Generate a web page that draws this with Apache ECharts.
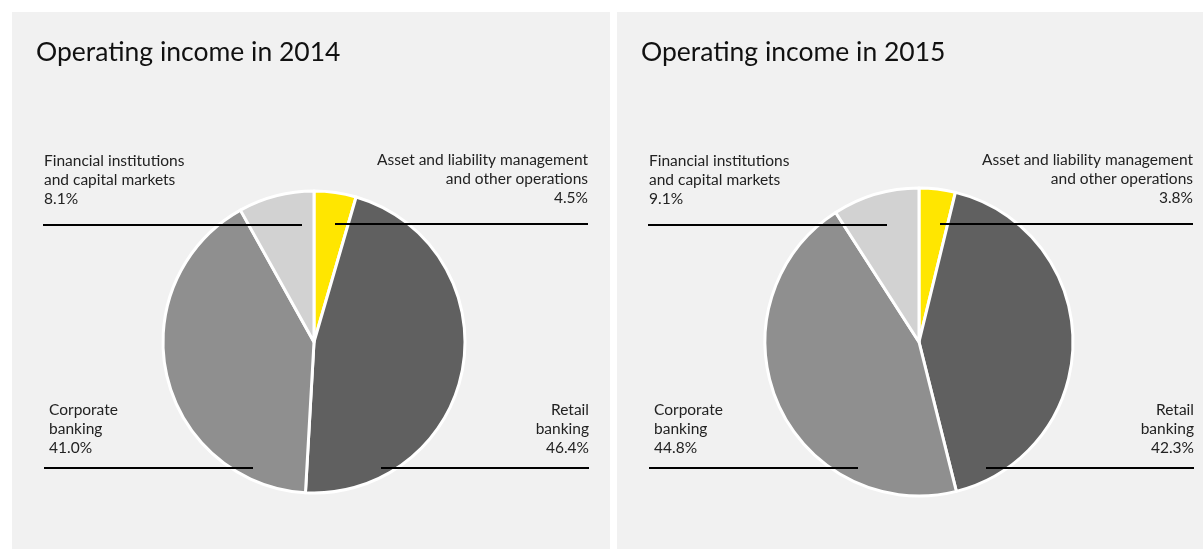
<!DOCTYPE html>
<html>
<head>
<meta charset="utf-8">
<script src="https://cdn.jsdelivr.net/npm/echarts@6/dist/echarts.min.js"></script>
<style>
  html, body { margin: 0; padding: 0; background: #fff; }
  .panel { position: absolute; top: 12px; height: 537px; background: #f1f1f1; }
  #p2014 { left: 12px; width: 598px; }
  #p2015 { left: 617px; width: 586px; }
</style>
</head>
<body>
<div id="p2014" class="panel"></div>
<div id="p2015" class="panel"></div>
<script>
// segments, clockwise from 12 o'clock
const categories = [
  'Asset and liability management\nand other operations',
  'Retail\nbanking',
  'Corporate\nbanking',
  'Financial institutions\nand capital markets'
]
const share2014 = [4.5, 46.4, 41.0, 8.1]
const share2015 = [3.8, 42.3, 44.8, 9.1]
const colors = ['#ffe600', '#606060', '#8f8f8f', '#d2d2d2']

const FONT = 'Lato'

// label anchor per segment: text side, underline y and x range (panel px)
function labelSpots (cx, finEnd) {
  return [
    { align: 'right', tx: 576, ly: 212, dy: 17, x1: cx + 21, x2: 576 },
    { align: 'right', tx: 577, ly: 456, dy: 11, x1: cx + 67, x2: 577 },
    { align: 'left', tx: 37, ly: 456, dy: 11, x1: 32, x2: cx - 61 },
    { align: 'left', tx: 32, ly: 213, dy: 17, x1: 31, x2: finEnd }
  ]
}

function makeChart (el, title, values, radius, finEnd) {
  const chart = echarts.init(document.getElementById(el))
  const cx = 302
  const spots = labelSpots(cx, finEnd)
  const pieBase = {
    type: 'pie',
    center: [cx, 330],
    radius: radius,
    startAngle: 90,
    clockwise: true,
    avoidLabelOverlap: false,
    emphasis: { disabled: true }
  }
  chart.setOption({
    animation: false,
    title: {
      text: title,
      left: 19,
      top: 22,
      textStyle: { fontFamily: FONT, fontSize: 26.5, fontWeight: 'normal', color: '#111' }
    },
    series: [
      Object.assign({}, pieBase, {
        z: 2,
        itemStyle: { borderColor: '#fff', borderWidth: 3 },
        data: values.map((v, i) => ({
          name: categories[i],
          value: v,
          itemStyle: { color: colors[i] }
        })),
        label: { show: false },
        labelLine: { show: false }
      }),
      // same shares again, invisible, so labels and underlines sit above the slices
      Object.assign({}, pieBase, {
        z: 5,
        silent: true,
        itemStyle: { color: 'rgba(0,0,0,0)', borderWidth: 0 },
        data: values.map((v, i) => ({ name: categories[i], value: v })),
        label: {
          show: true,
          position: 'outside',
          formatter: p => p.name + '\n' + p.value.toFixed(1) + '%',
          fontFamily: FONT,
          fontSize: 15.5,
          lineHeight: 19,
          color: '#222'
        },
        labelLine: {
          show: true,
          lineStyle: { color: '#000', width: 2 }
        },
        labelLayout: function (params) {
          const s = spots[params.dataIndex]
          return {
            x: s.tx,
            y: s.ly - s.dy,
            align: s.align,
            verticalAlign: 'bottom',
            labelLinePoints: [[s.x1, s.ly], [(s.x1 + s.x2) / 2, s.ly], [s.x2, s.ly]]
          }
        }
      })
    ]
  })
}

makeChart('p2014', 'Operating income in 2014', share2014, 151, 290)
makeChart('p2015', 'Operating income in 2015', share2015, 154, 270)
</script>
</body>
</html>
